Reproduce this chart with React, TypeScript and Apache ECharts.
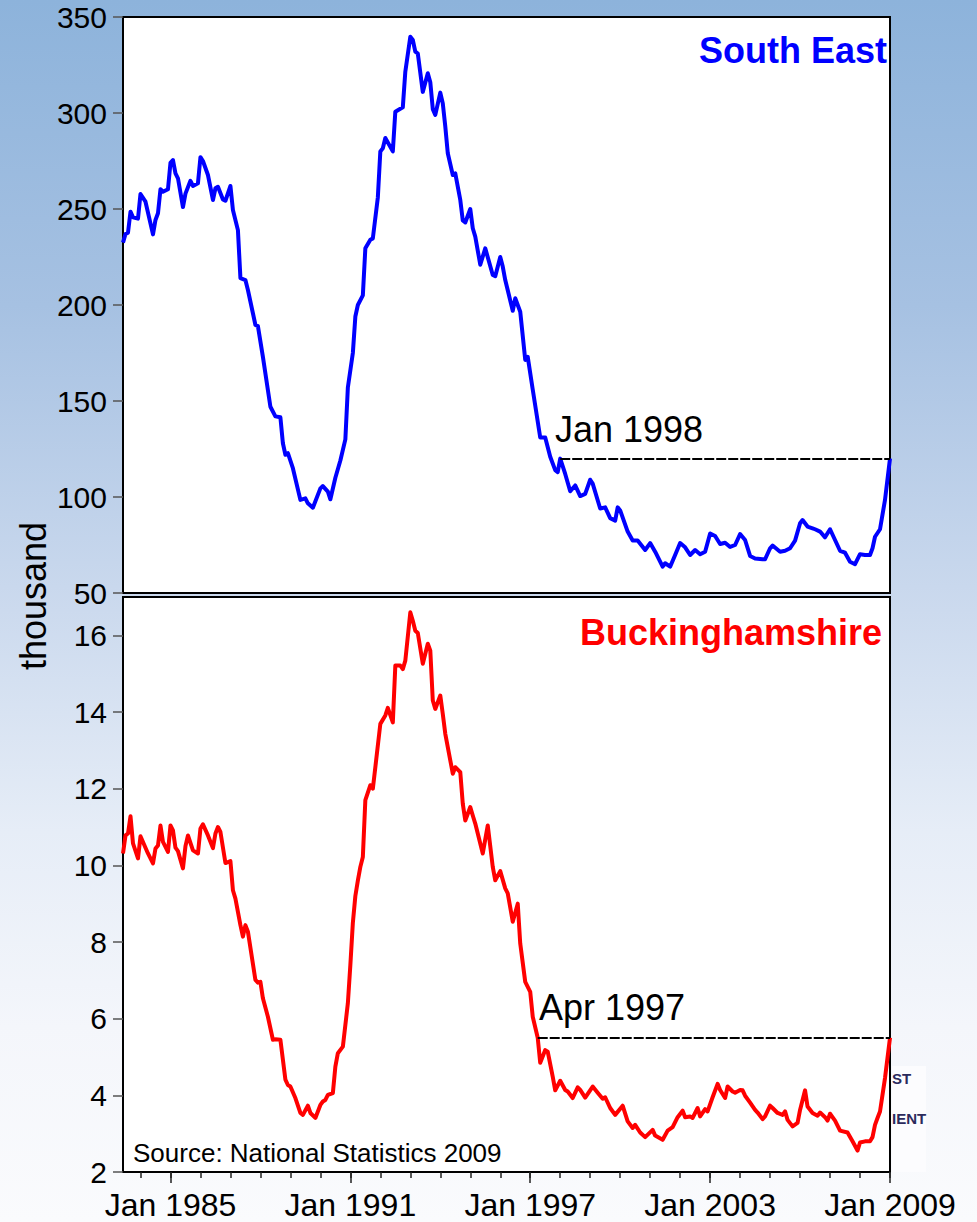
import React, { useEffect, useRef } from 'react';
import * as echarts from 'echarts';

const FONT = '"Liberation Sans", Arial, Helvetica, sans-serif';

// ---- South East (thousand) ----
const seDates = [
  '1983-06','1983-07','1983-08','1983-09','1983-10','1983-12',
  '1984-01','1984-03','1984-06','1984-07','1984-08','1984-09','1984-10','1984-12',
  '1985-01','1985-02','1985-03','1985-04','1985-06','1985-07','1985-09','1985-10','1985-12',
  '1986-01','1986-02','1986-04','1986-06','1986-07','1986-08','1986-10','1986-11',
  '1987-01','1987-02','1987-04','1987-05','1987-07','1987-08','1987-10','1987-11','1987-12',
  '1988-02','1988-05','1988-07','1988-09','1988-10','1988-11','1988-12',
  '1989-02','1989-05','1989-07','1989-08','1989-10',
  '1990-01','1990-02','1990-04','1990-05','1990-07','1990-09','1990-11','1990-12',
  '1991-02','1991-03','1991-04','1991-06','1991-07','1991-09','1991-10','1991-12',
  '1992-01','1992-02','1992-03','1992-06','1992-07','1992-10','1992-11',
  '1993-01','1993-02','1993-03','1993-04','1993-06','1993-08','1993-09','1993-10','1993-11',
  '1994-01','1994-02','1994-03','1994-04','1994-06','1994-07','1994-09','1994-10','1994-11',
  '1995-01','1995-02','1995-03','1995-05','1995-07','1995-10','1995-11',
  '1996-01','1996-02','1996-03','1996-06','1996-07','1996-09','1996-11','1996-12',
  '1997-02','1997-05','1997-07','1997-09','1997-11','1997-12',
  '1998-01','1998-03','1998-05','1998-07','1998-09','1998-11',
  '1999-01','1999-02','1999-05','1999-07','1999-09','1999-11','1999-12',
  '2000-01','2000-04','2000-06','2000-08','2000-11',
  '2001-01','2001-03','2001-06','2001-07','2001-09','2001-11',
  '2002-01','2002-03','2002-05','2002-07','2002-09','2002-11',
  '2003-01','2003-03','2003-05','2003-07','2003-09','2003-11',
  '2004-01','2004-03','2004-05','2004-07','2004-10','2004-11',
  '2005-01','2005-02','2005-05','2005-07','2005-09','2005-11',
  '2006-01','2006-02','2006-04','2006-06','2006-07','2006-09','2006-11',
  '2007-01','2007-03','2007-05','2007-07','2007-09','2007-11',
  '2008-01','2008-03','2008-05','2008-06','2008-07','2008-09','2008-11',
  '2009-01',
];
const seValues = [
  232.5, 237, 237.7, 248.6, 245.7, 245,
  257.8, 253.8, 236.8, 244.3, 247.8, 260.3, 259, 260.3,
  274, 275.5, 268.6, 266, 251, 258, 264.7, 262, 263.4,
  277, 275, 267.7, 254.7, 260.8, 261.6, 255, 254.3,
  262, 249.5, 239, 214, 213, 207.8, 195.7, 189.6, 189,
  173, 147, 142, 141.5, 128, 122, 122.8,
  115, 98.5, 99.3, 96.7, 94.4,
  104.5, 105.7, 102.8, 98.8, 110, 119, 130, 157,
  175, 194, 200, 205, 229.5, 234, 234.7, 256,
  280, 281.6, 287, 280, 300.7, 303, 321.5,
  339.7, 338, 332, 331, 311, 320.7, 316, 302, 299,
  310.6, 305, 293, 279, 267.7, 268.6, 254.7, 244, 243,
  250, 240, 235.6, 221, 229.5, 215.6, 215,
  225, 220, 213, 197, 203.5, 196.5, 171.4, 173,
  156, 131, 131, 121, 114, 113,
  120, 112, 103, 106, 100.5, 101.6,
  109, 107, 94, 94.6, 89, 87.7, 94.6,
  93, 82, 77.3, 77.3, 72.4,
  76, 71.5, 63.7, 65.5, 63.7, 69.8,
  76, 73.8, 69.8, 72.4, 70.2, 71.5,
  81, 79.7, 75.5, 76.2, 74, 75,
  80.7, 77.6, 69.3, 68, 67.6, 67.6,
  73.3, 74.7, 71.5, 72, 73.3, 77.3,
  86.3, 88, 84.6, 83.7, 83.2, 82, 79,
  83.2, 77.6, 72, 71, 66.3, 65,
  70.2, 69.8, 69.8, 73.3, 79.3, 83.2, 98.5,
  120,
];

// ---- Buckinghamshire (thousand) ----
const bkDates = [
  '1983-06','1983-07','1983-08','1983-09','1983-10','1983-12',
  '1984-01','1984-02','1984-04','1984-06','1984-07','1984-08','1984-09','1984-10','1984-12',
  '1985-01','1985-02','1985-03','1985-04','1985-06','1985-07','1985-08','1985-10','1985-12',
  '1986-01','1986-02','1986-04','1986-06','1986-07','1986-08','1986-09','1986-11',
  '1987-01','1987-02','1987-03','1987-05','1987-06','1987-07','1987-08','1987-11','1987-12',
  '1988-01','1988-02','1988-04','1988-06','1988-07','1988-09','1988-11','1988-12',
  '1989-01','1989-03','1989-05','1989-06','1989-08','1989-09','1989-11',
  '1990-01','1990-02','1990-03','1990-04','1990-06','1990-07','1990-08','1990-10','1990-12',
  '1991-01','1991-02','1991-03','1991-04','1991-05','1991-06','1991-07','1991-09','1991-10','1991-11',
  '1992-01','1992-03','1992-04','1992-06','1992-07','1992-09','1992-10','1992-11',
  '1993-01','1993-02','1993-03','1993-04','1993-06','1993-08','1993-09','1993-10','1993-11',
  '1994-01','1994-02','1994-03','1994-05','1994-06','1994-07','1994-09','1994-10','1994-11',
  '1995-01','1995-02','1995-03','1995-06','1995-08','1995-10','1995-11',
  '1996-01','1996-03','1996-04','1996-06','1996-08','1996-09','1996-11',
  '1997-01','1997-02','1997-04','1997-05','1997-07','1997-08','1997-10','1997-11',
  '1998-01','1998-03','1998-04','1998-06','1998-08','1998-09','1998-11',
  '1999-02','1999-04','1999-06','1999-07','1999-09','1999-11',
  '2000-02','2000-04','2000-06','2000-07','2000-09','2000-11',
  '2001-02','2001-03','2001-06','2001-08','2001-10','2001-12',
  '2002-02','2002-03','2002-05','2002-06','2002-08','2002-09','2002-11','2002-12',
  '2003-02','2003-04','2003-05','2003-07','2003-08','2003-10','2003-11',
  '2004-01','2004-02','2004-03','2004-05','2004-07','2004-08','2004-10','2004-11',
  '2005-01','2005-02','2005-04','2005-06','2005-07','2005-08','2005-10','2005-12',
  '2006-01','2006-03','2006-04','2006-06','2006-08','2006-09','2006-11','2006-12',
  '2007-01','2007-03','2007-05','2007-08','2007-10','2007-12',
  '2008-01','2008-03','2008-05','2008-06','2008-07','2008-08','2008-09','2008-11',
  '2009-01',
];
const bkValues = [
  10.31, 10.78, 10.83, 11.28, 10.57, 10.18,
  10.76, 10.61, 10.31, 10.05, 10.44, 10.52, 11.04, 10.61, 10.35,
  11.04, 10.91, 10.46, 10.37, 9.92, 10.5, 10.78, 10.39, 10.31,
  10.96, 11.07, 10.78, 10.45, 10.83, 11.0, 10.87, 10.06,
  10.11, 9.35, 9.13, 8.44, 8.14, 8.44, 8.27, 7.01, 6.94,
  6.96, 6.53, 6.05, 5.45, 5.46, 5.45, 4.41, 4.27,
  4.23, 3.93, 3.54, 3.49, 3.73, 3.54, 3.41,
  3.75, 3.84, 3.88, 4.01, 4.06, 4.75, 5.1, 5.27, 6.4,
  7.4, 8.5, 9.2, 9.6, 9.96, 10.22, 11.7, 12.09, 12.0, 12.56,
  13.69, 13.91, 14.11, 13.73, 15.21, 15.21, 15.12, 15.34,
  16.6, 16.38, 16.12, 16.06, 15.26, 15.78, 15.6, 14.3, 14.08,
  14.43, 13.95, 13.43, 12.74, 12.39, 12.56, 12.43, 11.61, 11.17,
  11.52, 11.3, 11.09, 10.31, 11.04, 9.96, 9.61,
  9.85, 9.4, 9.27, 8.53, 9.0, 7.96, 6.96,
  6.7, 6.05, 5.5, 4.85, 5.18, 5.14, 4.49, 4.13,
  4.38, 4.14, 4.1, 3.93, 4.21, 4.14, 3.94,
  4.23, 4.07, 3.91, 3.95, 3.67, 3.49,
  3.73, 3.32, 3.15, 3.23, 3.03, 2.91,
  3.1, 2.95, 2.84, 3.08, 3.17, 3.43,
  3.6, 3.43, 3.45, 3.41, 3.67, 3.45, 3.64, 3.58,
  3.95, 4.3, 4.14, 3.93, 4.23, 4.1, 4.07,
  4.14, 4.13, 3.99, 3.81, 3.62, 3.55, 3.38, 3.45,
  3.73, 3.67, 3.54, 3.49, 3.58, 3.36, 3.19, 3.28,
  3.62, 4.13, 3.71, 3.54, 3.47, 3.55, 3.43, 3.34,
  3.52, 3.34, 3.08, 3.03, 2.8, 2.56,
  2.77, 2.8, 2.8, 2.91, 3.23, 3.41, 3.58, 4.45,
  5.5,
];

// Axes / annotations
const minorTickYears = [1984, 1985, 1986, 1987, 1988, 1989, 1990, 1991, 1992, 1993, 1994, 1995, 1996,
  1997, 1998, 1999, 2000, 2001, 2002, 2003, 2004, 2005, 2006, 2007, 2008, 2009];
const majorTickYears = [1985, 1991, 1997, 2003, 2009];
const seTicks = [50, 100, 150, 200, 250, 300, 350];
const bkTicks = [2, 4, 6, 8, 10, 12, 14, 16];
const seMarkDate = '1998-01';
const bkMarkDate = '1997-04';
const seTitle = 'South East';
const bkTitle = 'Buckinghamshire';
const yName = 'thousand';
const sourceNote = 'Source: National Statistics 2009';

const toYear = (s: string) => {
  const [y, m] = s.split('-').map(Number);
  return y + (m - 1) / 12;
};
const X_MIN = toYear(seDates[0]);
const X_MAX = toYear(seDates[seDates.length - 1]);

const MONTHS = ['Jan','Feb','Mar','Apr','May','Jun','Jul','Aug','Sep','Oct','Nov','Dec'];
const monthLabel = (s: string) => {
  const [y, m] = s.split('-').map(Number);
  return MONTHS[m - 1] + ' ' + y;
};

export default function App() {
  const ref = useRef<HTMLDivElement>(null);
  useEffect(() => {
    document.body.style.margin = '0';
    const chart = echarts.init(ref.current!, null, { renderer: 'svg' });

    const seData = seDates.map((d, i) => [toYear(d), seValues[i]]);
    const bkData = bkDates.map((d, i) => [toYear(d), bkValues[i]]);
    const seMarkVal = seValues[seDates.indexOf(seMarkDate)];
    const bkMarkVal = bkValues[bkDates.indexOf(bkMarkDate)];

    const gridStyle = { show: true, borderColor: '#000', borderWidth: 2, backgroundColor: '#fff' };
    const tickLabel = { fontSize: 30, color: '#000', fontFamily: FONT, margin: 16 };
    const dashed = { color: '#000', width: 2, type: [10, 2] as any };

    chart.setOption({
      animation: false,
      backgroundColor: 'transparent',
      grid: [
        { left: 123, top: 17, width: 767, height: 576, ...gridStyle },
        { left: 123, top: 597, width: 767, height: 575, ...gridStyle },
      ],
      xAxis: [
        { type: 'value', gridIndex: 0, min: X_MIN, max: X_MAX, position: 'bottom',
          axisLine: { show: false }, axisTick: { show: false }, axisLabel: { show: false }, splitLine: { show: false } },
        { type: 'value', gridIndex: 1, min: X_MIN, max: X_MAX, position: 'bottom',
          axisLine: { show: true, onZero: false, lineStyle: { color: '#000', width: 2 } },
          axisTick: { show: true, customValues: minorTickYears, length: 6, lineStyle: { color: '#222', width: 1.5 } },
          axisLabel: { show: false }, splitLine: { show: false } },
        { type: 'value', gridIndex: 1, min: X_MIN, max: X_MAX, position: 'bottom',
          axisLine: { show: false, onZero: false },
          axisTick: { show: true, customValues: majorTickYears, length: 11, lineStyle: { color: '#222', width: 1.5 } },
          axisLabel: { show: true, customValues: majorTickYears, formatter: (v: number) => 'Jan ' + Math.round(v),
            fontSize: 32, color: '#000', fontFamily: FONT, margin: 17 },
          splitLine: { show: false } },
      ],
      yAxis: [
        { type: 'value', gridIndex: 0, min: 50, max: 350, interval: 50,
          axisLine: { show: true, lineStyle: { color: '#000', width: 2 } },
          axisTick: { show: true, customValues: seTicks, length: 10, lineStyle: { color: '#555', width: 1.5 } },
          axisLabel: { ...tickLabel, customValues: seTicks }, splitLine: { show: false } },
        { type: 'value', gridIndex: 1, min: 2, max: 17, interval: 2,
          axisLine: { show: true, lineStyle: { color: '#000', width: 2 } },
          axisTick: { show: true, customValues: bkTicks, length: 10, lineStyle: { color: '#555', width: 1.5 } },
          axisLabel: { ...tickLabel, customValues: bkTicks }, splitLine: { show: false } },
      ],
      series: [
        { type: 'line', name: seTitle, xAxisIndex: 0, yAxisIndex: 0, data: seData, symbol: 'none',
          lineStyle: { color: '#0000ff', width: 4, join: 'round' }, z: 3,
          markLine: { silent: true, symbol: 'none', label: { show: false }, lineStyle: dashed,
            data: [[{ coord: [toYear(seMarkDate), seMarkVal] }, { coord: [X_MAX, seMarkVal] }]] } },
        { type: 'line', name: bkTitle, xAxisIndex: 1, yAxisIndex: 1, data: bkData, symbol: 'none',
          lineStyle: { color: '#ff0000', width: 4, join: 'round' }, z: 3,
          markLine: { silent: true, symbol: 'none', label: { show: false }, lineStyle: dashed,
            data: [[{ coord: [toYear(bkMarkDate), bkMarkVal] }, { coord: [X_MAX, bkMarkVal] }]] } },
      ],
      graphic: [
        { type: 'text', x: 887, y: 50, z: 100, style: { text: seTitle, fontSize: 36, fontWeight: 'bold', fontFamily: FONT, fill: '#0000ff', align: 'right', verticalAlign: 'middle' } },
        { type: 'text', x: 882, y: 632, z: 100, style: { text: bkTitle, fontSize: 36, fontWeight: 'bold', fontFamily: FONT, fill: '#ff0000', align: 'right', verticalAlign: 'middle' } },
        { type: 'text', x: 555, y: 429, z: 100, style: { text: monthLabel(seMarkDate), fontSize: 36, fontFamily: FONT, fill: '#000', align: 'left', verticalAlign: 'middle' } },
        { type: 'text', x: 539, y: 1007, z: 100, style: { text: monthLabel(bkMarkDate), fontSize: 36, fontFamily: FONT, fill: '#000', align: 'left', verticalAlign: 'middle' } },
        { type: 'text', x: 33, y: 596, rotation: Math.PI / 2, z: 100, style: { text: yName, fontSize: 36, fontFamily: FONT, fill: '#000', align: 'center', verticalAlign: 'middle' } },
        { type: 'text', x: 133, y: 1153, z: 100, style: { text: sourceNote, fontSize: 26, fontFamily: FONT, fill: '#000', align: 'left', verticalAlign: 'middle' } },
        { type: 'rect', x: 892, y: 1066, z: 1, shape: { width: 34, height: 106 }, style: { fill: '#fcfcfe' } },
        { type: 'text', x: 892, y: 1078, z: 100, style: { text: 'ST', fontSize: 15, fontWeight: 'bold', fontFamily: FONT, fill: '#2b2a5c', align: 'left', verticalAlign: 'middle' } },
        { type: 'text', x: 892, y: 1118, z: 100, style: { text: 'IENT', fontSize: 15, fontWeight: 'bold', fontFamily: FONT, fill: '#2b2a5c', align: 'left', verticalAlign: 'middle' } },
      ],
    });
    return () => chart.dispose();
  }, []);
  return (
    <div
      ref={ref}
      style={{
        position: 'absolute', left: 0, top: 0, width: 977, height: 1222,
        background: 'linear-gradient(to bottom, #8db3db 0%, #a6c1e2 25%, #c9d8ed 48%, #e6edf7 68%, #f4f6fb 84%, #fafbfd 100%)',
      }}
    />
  );
}
